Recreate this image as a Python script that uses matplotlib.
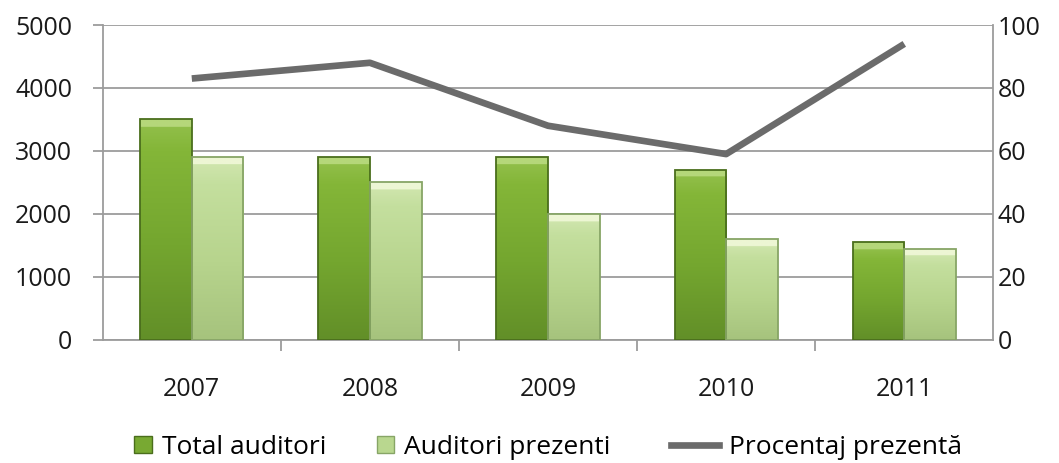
import matplotlib.pyplot as plt
import numpy as np
from matplotlib.lines import Line2D
from matplotlib.patches import Patch
from matplotlib.colors import LinearSegmentedColormap

plt.rcParams['font.family'] = ['Open Sans', 'DejaVu Sans']

years = ['2007', '2008', '2009', '2010', '2011']
total_auditori = [3500, 2900, 2900, 2700, 1550]
auditori_prezenti = [2900, 2500, 2000, 1600, 1450]
procentaj = [83, 88, 68, 59, 94]

dark_green = '#78a932'
light_green = '#b9d78f'
line_gray = '#6b6b6b'
grid_gray = '#9c9c9c'

# vertical shading for the bars (light strip on top, darker towards the bottom)
dark_cmap = LinearSegmentedColormap.from_list('d', ['#628f28', '#74a62f', '#84b638', '#b5d77a'])
light_cmap = LinearSegmentedColormap.from_list('l', ['#a6c37d', '#b7d48d', '#c4df9e', '#edf6d4'])


def shade(ax, bars, cmap):
    for b in bars:
        x0, w, h = b.get_x(), b.get_width(), b.get_height()
        top_frac = min(0.5, 110 / h)
        g = np.linspace(0, 1, 256).reshape(-1, 1)
        g = np.where(g > 1 - top_frac, 1.0, g / (1 - top_frac) * 0.75)
        im = ax.imshow(g, cmap=cmap, vmin=0, vmax=1, origin='lower', aspect='auto',
                       extent=(x0, x0 + w, 0, h), zorder=3)
        im.set_clip_path(b)


fig = plt.figure(figsize=(10.59, 4.63), dpi=100)
ax = fig.add_axes([0.097, 0.266, 0.841, 0.68])

x = np.arange(len(years))
w = 0.29
b1 = ax.bar(x - w / 2, total_auditori, w, color=dark_green, edgecolor='#4a6e1c', linewidth=1.3, zorder=3)
b2 = ax.bar(x + w / 2, auditori_prezenti, w, color=light_green, edgecolor='#87a566', linewidth=1.3, zorder=3)
shade(ax, b1, dark_cmap)
shade(ax, b2, light_cmap)
for b in list(b1) + list(b2):
    b.set_facecolor('none')
    b.set_zorder(4)

ax.set_ylim(0, 5000)
ax.set_xlim(-0.5, len(years) - 0.5)
ax.set_yticks(range(0, 5001, 1000))
ax.set_xticks(x)
ax.set_xticklabels(years)
ax.set_xticks(np.arange(0.5, len(years) - 0.5, 1), minor=True)
ax.tick_params(axis='x', which='major', length=0, pad=27, labelsize=18, labelcolor='#1a1a1a')
ax.tick_params(axis='x', which='minor', length=8, width=1.3, color=grid_gray, direction='out')
ax.tick_params(axis='y', length=7, width=1.3, color=grid_gray, labelsize=18, pad=15, labelcolor='#1a1a1a')
ax.grid(axis='y', color=grid_gray, linewidth=1.3, zorder=0)
for s in ['left', 'right', 'bottom']:
    ax.spines[s].set_color(grid_gray)
    ax.spines[s].set_linewidth(1.3)
ax.spines['top'].set_visible(False)

ax2 = ax.twinx()
ax2.plot(x, procentaj, color=line_gray, linewidth=4.8, solid_capstyle='butt', zorder=5)
ax2.set_ylim(0, 100)
ax2.set_yticks(range(0, 101, 20))
ax2.tick_params(axis='y', length=0, labelsize=18, pad=3, labelcolor='#1a1a1a')
for s in ['left', 'right', 'bottom', 'top']:
    ax2.spines[s].set_visible(False)

bar_handles = [
    Patch(facecolor=dark_green, edgecolor='#4a6e1c'),
    Patch(facecolor=light_green, edgecolor='#87a566'),
]
leg1 = fig.legend(bar_handles, ['Total auditori', 'Auditori prezenti'], loc='center left',
                  bbox_to_anchor=(0.127, 0.034), ncol=2, frameon=False, fontsize=19,
                  handlelength=0.65, handleheight=0.65, handletextpad=0.4,
                  columnspacing=1.9, borderpad=0, borderaxespad=0)
leg2 = fig.legend([Line2D([0], [0], color=line_gray, linewidth=4.8)], ['Procentaj prezentă'],
                  loc='center left', bbox_to_anchor=(0.634, 0.034), frameon=False, fontsize=19,
                  handlelength=1.8, handletextpad=0.4, borderpad=0, borderaxespad=0)

fig.savefig('out.png', dpi=100)
